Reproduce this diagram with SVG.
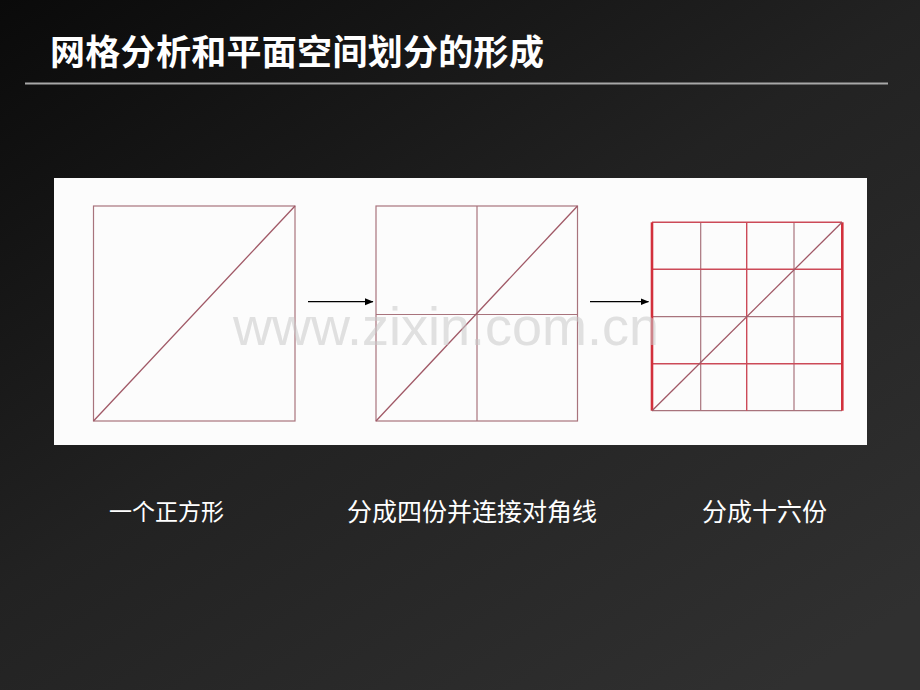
<svg xmlns="http://www.w3.org/2000/svg" width="920" height="690" viewBox="0 0 920 690">
  <defs>
    <linearGradient id="bg" x1="0" y1="0" x2="0.85" y2="1">
      <stop offset="0" stop-color="#0a0a0a"/>
      <stop offset="0.5" stop-color="#222222"/>
      <stop offset="1" stop-color="#303030"/>
    </linearGradient>
    <marker id="arrow" markerWidth="9" markerHeight="8" refX="8" refY="4" orient="auto" markerUnits="userSpaceOnUse">
      <path d="M0,0.5 L8.5,4 L0,7.5 Z" fill="#000"/>
    </marker>
    <style>
      .title { font-family: "Noto Sans CJK SC", "Noto Sans", sans-serif; font-weight: bold; font-size: 35px; fill: #ffffff; letter-spacing: 0.3px; }
      .label { font-family: "Noto Sans CJK SC", "Noto Sans", sans-serif; fill: #ffffff; }
      .thin { fill: none; stroke: #a8737c; stroke-width: 1.2; }
      .red { fill: none; stroke: #cc4a58; stroke-width: 1.4; }
      .redthick { fill: none; stroke: #d2303c; stroke-width: 2.6; }
      .diag { fill: none; stroke: #a05866; stroke-width: 1.3; }
      .conn { fill: none; stroke: #000; stroke-width: 1.3; marker-end: url(#arrow); }
      .wm { font-family: "Liberation Sans", Arial, sans-serif; font-size: 54px; fill: #c8c8c8; fill-opacity: 0.55; }
    </style>
  </defs>

  <rect x="0" y="0" width="920" height="690" fill="url(#bg)"/>

  <g id="title">
    <text class="title" x="50" y="65">网格分析和平面空间划分的形成</text>
    <line x1="25" y1="83.5" x2="888" y2="83.5" stroke="#a8a8a8" stroke-width="2"/>
  </g>

  <g id="panel">
    <rect x="54" y="178" width="813" height="267" fill="#fcfcfc"/>
  </g>

  <g id="square-1">
    <rect class="thin" x="93.5" y="206" width="201.5" height="215"/>
    <line class="diag" x1="93.5" y1="421" x2="295" y2="206"/>
  </g>

  <g id="square-4">
    <rect class="thin" x="376" y="206" width="201.5" height="215"/>
    <line class="thin" x1="477" y1="206" x2="477" y2="421"/>
    <line class="thin" x1="376" y1="314.5" x2="577.5" y2="314.5"/>
    <line class="diag" x1="376" y1="421" x2="577.5" y2="206"/>
  </g>

  <g id="square-16">
    <line class="thin" x1="652" y1="410.7" x2="842" y2="410.7"/>
    <line class="thin" x1="700.7" y1="222.5" x2="700.7" y2="410.7"/>
    <line class="thin" x1="794" y1="222.5" x2="794" y2="410.7"/>
    <line class="red" x1="746.7" y1="222.5" x2="746.7" y2="410.7"/>
    <line class="red" x1="652" y1="269.3" x2="842" y2="269.3"/>
    <line class="thin" x1="652" y1="316.7" x2="842" y2="316.7"/>
    <line class="red" x1="652" y1="363.7" x2="842" y2="363.7"/>
    <line class="red" stroke-width="1.8" x1="652" y1="222.3" x2="842" y2="222.3"/>
    <line class="redthick" x1="652" y1="222.3" x2="652" y2="410.7"/>
    <line class="redthick" x1="842.3" y1="222.3" x2="842.3" y2="410.7"/>
    <line class="diag" x1="652" y1="410.7" x2="842" y2="222.3"/>
  </g>

  <g id="connectors">
    <line class="conn" x1="308" y1="301.7" x2="373" y2="301.7"/>
    <line class="conn" x1="590" y1="301.7" x2="648.5" y2="301.7"/>
  </g>

  <text class="wm" x="233" y="345">www.zixin.com.cn</text>

  <g id="label-1">
    <text class="label" x="109" y="519.5" font-size="23">一个正方形</text>
  </g>
  <g id="label-2">
    <text class="label" x="347" y="520.5" font-size="25">分成四份并连接对角线</text>
  </g>
  <g id="label-3">
    <text class="label" x="702" y="521" font-size="25">分成十六份</text>
  </g>
</svg>
